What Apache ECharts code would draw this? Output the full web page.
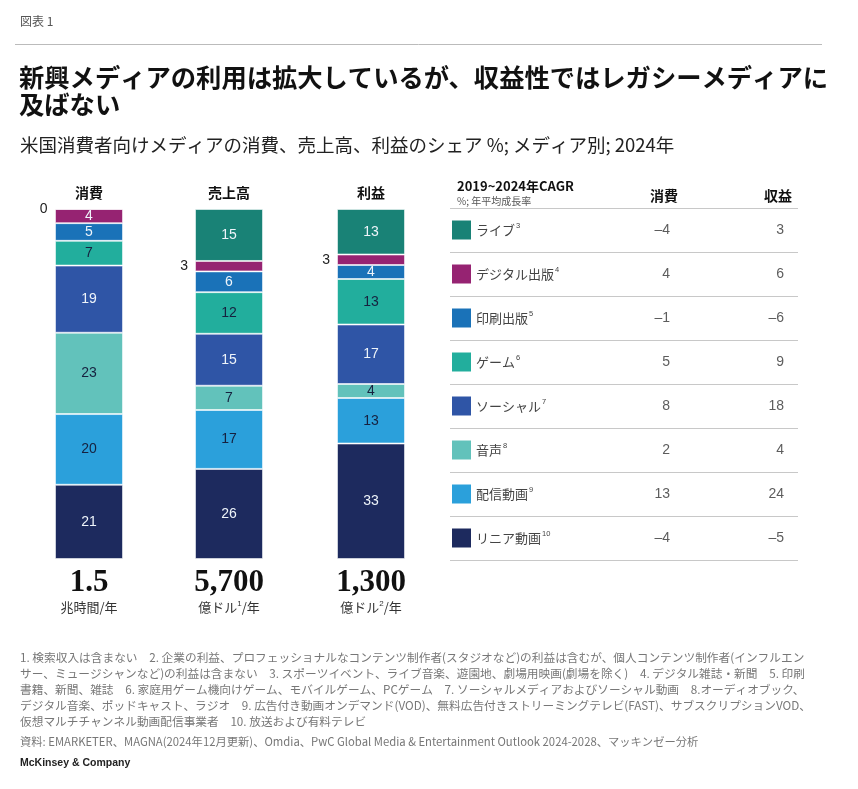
<!DOCTYPE html>
<html lang="ja">
<head>
<meta charset="UTF-8">
<title>図表 1</title>
<script src="https://cdn.jsdelivr.net/npm/echarts@6/dist/echarts.min.js"></script>
<style>
    html, body { margin: 0; padding: 0; background: #fff; }
    #main { width: 858px; height: 789px; }
</style>
</head>
<body>
<div id="main"></div>
<script>
    // メディア区分(上から順)
    var media = ['ライブ', 'デジタル出版', '印刷出版', 'ゲーム', 'ソーシャル', '音声', '配信動画', 'リニア動画'];
    var mediaNotes = ['3', '4', '5', '6', '7', '8', '9', '10'];
    var mediaColors = ['#198276', '#962372', '#1a72b8', '#22ae9d', '#2f55a6', '#62c2bb', '#2ba0db', '#1d2a5e'];
    var darkText = ['ゲーム', '音声', '配信動画'];

    // シェア % (media と同じ順)
    var columns = ['消費', '売上高', '利益'];
    var shareConsumption = [0, 4, 5, 7, 19, 23, 20, 21];
    var shareRevenue = [15, 3, 6, 12, 15, 7, 17, 26];
    var shareProfit = [13, 3, 4, 13, 17, 4, 13, 33];
    var shares = [shareConsumption, shareRevenue, shareProfit];

    // 合計
    var totals = ['1.5', '5,700', '1,300'];
    var units = ['兆時間', '億ドル', '億ドル'];
    var unitNotes = ['', '1', '2'];

    // 2019~2024年CAGR
    var cagrHeaders = ['消費', '収益'];
    var cagrConsumption = [-4, 4, -1, 5, 8, 2, 13, -4];
    var cagrRevenue = [3, 6, -6, 9, 18, 4, 24, -5];

    var JP = '"Noto Sans CJK JP", "Noto Sans", sans-serif';
    var NUM = '"Liberation Sans", Arial, sans-serif';

    var barLeft = [55, 195, 337];
    var barW = 68;

    var grid = [], xAxis = [], yAxis = [], series = [];

    columns.forEach(function (col, c) {
        var sum = shares[c].reduce(function (a, b) { return a + b; }, 0);
        grid.push({left: barLeft[c], width: barW, top: 209, bottom: 230});
        // 上: 列見出し
        xAxis.push({
            gridIndex: c, type: 'category', data: [col], position: 'top',
            axisLine: {show: false}, axisTick: {show: false},
            axisLabel: {margin: 9, fontSize: 14, fontWeight: 'bold', color: '#111', fontFamily: JP}
        });
        // 下: 合計と単位
        xAxis.push({
            gridIndex: c, type: 'category', data: [totals[c]], position: 'bottom',
            axisLine: {show: false}, axisTick: {show: false},
            axisLabel: {
                margin: 10,
                formatter: function (v) {
                    var s = '{v|' + v + '}\n{u|' + units[c] + '}';
                    if (unitNotes[c]) s += '{s|' + unitNotes[c] + '}';
                    return s + '{u|/年}';
                },
                rich: {
                    v: {fontSize: 31, fontWeight: 'bold', color: '#111', fontFamily: '"Liberation Serif", "DejaVu Serif", serif', lineHeight: 28},
                    u: {fontSize: 13, color: '#333', fontFamily: JP, lineHeight: 20},
                    s: {fontSize: 8, color: '#333', fontFamily: NUM, lineHeight: 20, verticalAlign: 'top', padding: [3, 0, 0, 0]}
                }
            }
        });
        yAxis.push({gridIndex: c, type: 'value', min: 0, max: sum, show: false});

        // 下から積み上げ
        for (var m = media.length - 1; m >= 0; m--) {
            var v = shares[c][m];
            var small = v <= 3;
            var dark = darkText.indexOf(media[m]) >= 0;
            series.push({
                name: media[m],
                type: 'bar',
                stack: 'col' + c,
                xAxisIndex: c * 2,
                yAxisIndex: c,
                barWidth: '100%',
                data: [v],
                itemStyle: {color: mediaColors[m], borderColor: 'rgba(255,255,255,0.55)', borderWidth: 1},
                label: {
                    show: true,
                    position: small ? 'left' : 'inside',
                    distance: 7,
                    fontSize: 14,
                    fontFamily: NUM,
                    color: small ? '#222' : (dark ? '#16213f' : '#eef4fa')
                },
                silent: true
            });
        }
    });

    // 凡例と行の区切り
    var richLegend = {
        n: {fontSize: 13, color: '#444', fontFamily: JP, padding: [0, 0, 0, 5]},
        s: {fontSize: 7.5, color: '#444', fontFamily: NUM, verticalAlign: 'top', padding: [1, 0, 5, 1]}
    };
    mediaColors.forEach(function (col, i) {
        richLegend['c' + i] = {backgroundColor: col, width: 19, height: 19};
    });

    grid.push({left: 450, right: 60, top: 208, bottom: 229});
    xAxis.push({gridIndex: 3, type: 'value', min: 0, max: 1, show: false});
    yAxis.push({
        gridIndex: 3, type: 'category', data: media, inverse: true,
        axisLine: {show: false}, axisTick: {show: false},
        splitLine: {show: true, lineStyle: {color: '#c8c8c8', width: 1}},
        axisLabel: {
            inside: true, margin: 2,
            formatter: function (v) {
                var k = media.indexOf(v);
                return '{c' + k + '|}{n|' + v + '}{s|' + mediaNotes[k] + '}';
            },
            rich: richLegend
        }
    });
    series.push({type: 'scatter', xAxisIndex: 6, yAxisIndex: 3, data: [], silent: true});

    // CAGR 値
    function fmt(v) { return v < 0 ? '\u2013' + Math.abs(v) : String(v); }

    grid.push({left: 607, right: 23, top: 208, bottom: 229});
    xAxis.push({
        gridIndex: 4, type: 'category', data: cagrHeaders, position: 'top',
        axisLine: {show: false}, axisTick: {show: false},
        axisLabel: {margin: 5, fontSize: 14, fontWeight: 'bold', color: '#111', fontFamily: JP}
    });
    yAxis.push({gridIndex: 4, type: 'category', data: media, inverse: true, show: false});

    [cagrConsumption, cagrRevenue].forEach(function (arr, k) {
        series.push({
            type: 'scatter',
            xAxisIndex: 7,
            yAxisIndex: 4,
            symbolSize: 1,
            itemStyle: {color: 'rgba(0,0,0,0)'},
            data: arr.map(function (v, i) { return [cagrHeaders[k], media[i], v]; }),
            label: {
                show: true, position: 'inside', align: 'right', offset: [6, 0],
                fontSize: 14, fontFamily: NUM, color: '#333',
                formatter: function (p) { return fmt(p.value[2]); }
            },
            silent: true
        });
    });

    var footnotes = [
        '1. 検索収入は含まない　2. 企業の利益、プロフェッショナルなコンテンツ制作者(スタジオなど)の利益は含むが、個人コンテンツ制作者(インフルエン',
        'サー、ミュージシャンなど)の利益は含まない　3. スポーツイベント、ライブ音楽、遊園地、劇場用映画(劇場を除く)　4. デジタル雑誌・新聞　5. 印刷',
        '書籍、新聞、雑誌　6. 家庭用ゲーム機向けゲーム、モバイルゲーム、PCゲーム　7. ソーシャルメディアおよびソーシャル動画　8.オーディオブック、',
        'デジタル音楽、ポッドキャスト、ラジオ　9. 広告付き動画オンデマンド(VOD)、無料広告付きストリーミングテレビ(FAST)、サブスクリプションVOD、',
        '仮想マルチチャンネル動画配信事業者　10. 放送および有料テレビ'
    ];
    var source = '資料: EMARKETER、MAGNA(2024年12月更新)、Omdia、PwC Global Media & Entertainment Outlook 2024-2028、マッキンゼー分析';

    var chart = echarts.init(document.getElementById('main'), null, {renderer: 'canvas'});
    chart.setOption({
        animation: false,
        backgroundColor: '#fff',
        title: [
            {text: '図表 1', left: 15, top: 10, textStyle: {fontSize: 12, fontWeight: 'normal', color: '#555', fontFamily: JP}},
            {
                text: '新興メディアの利用は拡大しているが、収益性ではレガシーメディアに\n及ばない',
                left: 14, top: 59,
                textStyle: {fontSize: 25.3, fontWeight: 'bold', color: '#111', fontFamily: JP, lineHeight: 27}
            },
            {text: '米国消費者向けメディアの消費、売上高、利益のシェア %; メディア別; 2024年', left: 15, top: 131,
                textStyle: {fontSize: 18.5, fontWeight: 'normal', color: '#222', fontFamily: JP}},
            {text: '2019~2024年CAGR', left: 452, top: 175, textStyle: {fontSize: 13, fontWeight: 'bold', color: '#111', fontFamily: JP}},
            {text: '%; 年平均成長率', left: 452, top: 191, textStyle: {fontSize: 10, fontWeight: 'normal', color: '#555', fontFamily: JP}},
            {text: footnotes.join('\n'), left: 15, top: 645,
                textStyle: {fontSize: 11.7, fontWeight: 'normal', color: '#777', fontFamily: JP, lineHeight: 16}},
            {text: source, left: 15, top: 731, textStyle: {fontSize: 11.3, fontWeight: 'normal', color: '#777', fontFamily: JP}},
            {text: 'McKinsey & Company', left: 15, top: 753, textStyle: {fontSize: 10.5, fontWeight: 'bold', color: '#222', fontFamily: NUM}}
        ],
        graphic: [
            {type: 'line', shape: {x1: 15, y1: 44.5, x2: 822, y2: 44.5}, style: {stroke: '#bbb', lineWidth: 1}, silent: true}
        ],
        grid: grid,
        xAxis: xAxis,
        yAxis: yAxis,
        series: series
    });
</script>
</body>
</html>
